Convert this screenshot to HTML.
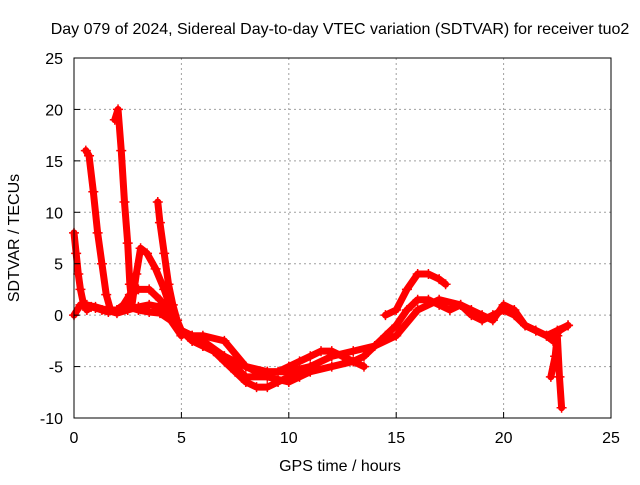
<!DOCTYPE html>
<html><head><meta charset="utf-8"><style>
body{margin:0;background:#fff;width:640px;height:480px;overflow:hidden}
text{font-family:"Liberation Sans",sans-serif;font-size:16px;fill:#000}
</style></head><body>
<svg id="chart" width="640" height="480" viewBox="0 0 640 480" xmlns="http://www.w3.org/2000/svg">
<text x="340" y="34" text-anchor="middle">Day 079 of 2024, Sidereal Day-to-day VTEC variation (SDTVAR) for receiver tuo2</text>
<text transform="translate(19,238) rotate(-90)" text-anchor="middle">SDTVAR / TECUs</text>
<text x="340" y="471" text-anchor="middle">GPS time / hours</text>
<g id="grid"></g><g id="series"></g><g id="axes"></g>
</svg>
<script>
const xTicks=[0,5,10,15,20,25];
const yTicks=[-10,-5,0,5,10,15,20,25];
const s1x=[0,0.1,0.2,0.3,0.45,0.6,0.8,1.0,1.3,1.6,2.0,2.5,3.0,3.5,4.0,4.5,5.0];
const s1y=[8,6,4,2.5,1,0.5,0.8,0.7,0.5,0.3,0.5,0.8,0.5,0.3,0.2,-0.5,-2];
const s2x=[0.55,0.7,0.9,1.1,1.3,1.5,1.7,2.0,2.3,2.6,3.0,3.5,4,4.5,5,5.5,6];
const s2y=[16,15.5,12,8,5,2,0.5,0.5,1,2,2.5,2.5,1.5,0,-1.5,-2,-2.5];
const s3x=[1.9,2.05,2.2,2.35,2.5,2.6,2.7,2.9,3.1,3.4,3.8,4.2,4.6,5.0,5.5,6,6.5,7,7.5,8,8.5,9,9.5,10,10.5,11];
const s3y=[19,20,16,11,7,3,1,4,6.5,6,4.5,2.5,0,-1.5,-2.5,-3,-3.5,-4.5,-5.5,-6.5,-7,-7,-6.5,-6,-5.5,-5];
const s4x=[3.9,4.0,4.2,4.4,4.6,4.8,5.0,5.5,6,6.5,7,7.5,8,8.5,9,9.5,10,10.5,11,11.5,12,12.5,13,13.5,14,14.5,15,15.5,16,16.5,17,17.5,18,18.5,19,19.5,20,20.5,21,21.5,22,22.5,23];
const s4y=[11,9,6,3,1,-0.5,-1.5,-2.5,-3,-3.5,-4,-4.5,-5,-5.5,-5.5,-5.5,-5,-4.5,-4,-3.5,-3.5,-4,-4.5,-4,-3,-2,-1,0.5,1.5,1.5,1,0.5,1,0.5,0,-0.5,1,0.5,-1,-1.5,-2,-1.5,-1];
const s5x=[0,0.3,0.6,1,1.5,2,2.5,3,3.5,4,4.5,5,5.5,6,7,8,9,10,11,12,13,14,15,16,17,18,18.5,19,19.5,20,20.5,21,21.5,22,22.3,22.6,23];
const s5y=[0,1,1,0.8,0.5,0.2,0.5,0.8,1,0.8,0,-1.5,-2,-2,-2.5,-5,-5.5,-5.5,-5,-4,-3.5,-3,-2,0.5,1.5,1,0,-0.5,0,0.5,0,-1,-1.5,-2,-2.5,-1.5,-1];
const s6x=[14.5,15,15.5,16,16.5,17,17.3];
const s6y=[0,0.5,2.5,4,4,3.5,3];
const s7x=[22.2,22.4,22.5,22.6,22.7];
const s7y=[-6,-4,-2,-6,-9];
const s8x=[6,7,8,9,10,10.5,11,12,13,13.5];
const s8y=[-2.5,-4,-6,-6,-6.5,-6,-5.5,-5,-4.5,-5];
const seriesX=[s1x,s2x,s3x,s4x,s5x,s6x,s7x,s8x];
const seriesY=[s1y,s2y,s3y,s4y,s5y,s6y,s7y,s8y];
const X0=74,X1=611,Y0=418,Y1=58;
const sx=v=>X0+(v-0)/(25-0)*(X1-X0);
const sy=v=>Y0-(v+10)/35*(Y0-Y1);
const NS="http://www.w3.org/2000/svg";
const grid=document.getElementById('grid'),axes=document.getElementById('axes'),ser=document.getElementById('series');
function mk(tag,attrs,parent){const e=document.createElementNS(NS,tag);for(const k in attrs)e.setAttribute(k,attrs[k]);parent.appendChild(e);return e;}
xTicks.forEach(t=>{
 if(t>0&&t<25){const g=mk('line',{x1:sx(t),x2:sx(t),y1:Y1,y2:Y0,stroke:'#a0a0a0','stroke-dasharray':'2,3'},grid);
 
 }
 const tk=mk('line',{x1:sx(t),x2:sx(t),y1:Y0,y2:Y0-6,stroke:'#000'},axes);
 
 
 const l=mk('text',{x:sx(t),y:Y0+25,'text-anchor':'middle'},axes);l.textContent=t;
 
 
});
yTicks.forEach(t=>{
 if(t>-10&&t<25){const g=mk('line',{x1:X0,x2:X1,y1:sy(t),y2:sy(t),stroke:'#a0a0a0','stroke-dasharray':'2,3'},grid);
 
 }
 const tk=mk('line',{x1:X0,x2:X0+6,y1:sy(t),y2:sy(t),stroke:'#000'},axes);
 
 
 const l=mk('text',{x:X0-11,y:sy(t)+6,'text-anchor':'end'},axes);l.textContent=t;
 
 
});
const fr=mk('rect',{x:X0,y:Y1,width:X1-X0,height:Y0-Y1,fill:'none',stroke:'#000'},axes);


seriesX.forEach((xs,i)=>{
 const ys=seriesY[i];
 const pts=xs.map((x,j)=>sx(x)+','+sy(ys[j])).join(' ');
 const p=mk('polyline',{points:pts,fill:'none',stroke:'#ff0000','stroke-width':7,'stroke-linejoin':'round','stroke-linecap':'round'},ser);
 
 
 xs.forEach((x,j)=>{
  const cx=sx(x),cy=sy(ys[j]);
  const m=mk('path',{d:`M${cx-5},${cy}H${cx+5}M${cx},${cy-5}V${cy+5}`,stroke:'#ff0000','stroke-width':1.5},ser);
  
  
 });
});
</script>
</body></html>
